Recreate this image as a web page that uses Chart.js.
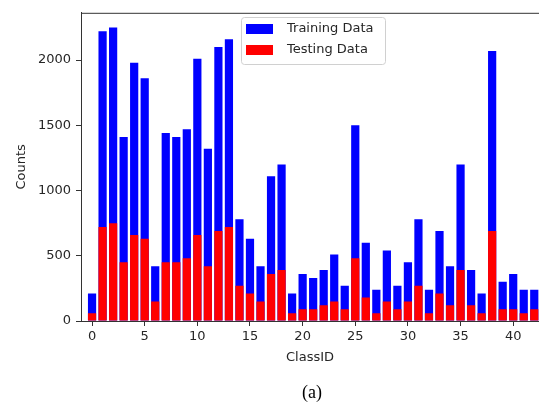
<!DOCTYPE html>
<html lang="en">
<head>
    <meta charset="UTF-8">
    <title>Training / Testing Data per ClassID</title>
    <script src="https://cdn.jsdelivr.net/npm/chart.js"></script>
    <style>
        body { margin: 0; background: #fff; }
        #wrap { width: 539px; height: 406px; }
    </style>
</head>
<body>
<div id="wrap"><canvas id="classChart" width="539" height="406"></canvas></div>

<script>
    // Class ids 0..42 and the counts
    const classIds = [0, 1, 2, 3, 4, 5, 6, 7, 8, 9, 10, 11, 12, 13, 14, 15, 16, 17, 18, 19, 20,
        21, 22, 23, 24, 25, 26, 27, 28, 29, 30, 31, 32, 33, 34, 35, 36, 37, 38, 39, 40, 41, 42];
    const trainCounts = [210, 2220, 2250, 1410, 1980, 1860, 420, 1440, 1410, 1470, 2010, 1320, 2100, 2160,
        780, 630, 420, 1110, 1200, 210, 360, 330, 390, 510, 270, 1500, 600, 240, 540, 270, 450,
        780, 240, 689, 420, 1200, 390, 210, 2070, 300, 360, 240, 240];
    const testCounts = [60, 720, 750, 450, 660, 630, 150, 450, 450, 480, 660, 420, 690, 720,
        270, 210, 150, 360, 390, 60, 90, 90, 120, 150, 90, 480, 180, 60, 150, 90, 150,
        270, 60, 210, 120, 390, 120, 60, 690, 90, 90, 60, 90];
    const seriesNames = ["Training Data", "Testing Data"];
    const yTicks = [0, 500, 1000, 1500, 2000];

    const txt = '#262626';
    const font = { family: 'DejaVu Sans', size: 13 };

    // frame top line, legend box and the "(a)" caption
    const extras = {
        id: 'extras',
        afterDraw(chart) {
            const ctx = chart.ctx;
            const a = chart.chartArea;
            ctx.save();
            ctx.strokeStyle = '#333';
            ctx.lineWidth = 1;
            ctx.beginPath();
            ctx.moveTo(a.left, a.top + 0.5);
            ctx.lineTo(chart.width, a.top + 0.5);
            ctx.stroke();

            // legend
            ctx.fillStyle = 'rgba(255,255,255,0.8)';
            ctx.strokeStyle = '#d0d0d0';
            ctx.beginPath();
            ctx.roundRect(241.5, 17.5, 144, 47, 3);
            ctx.fill();
            ctx.stroke();
            ctx.font = '13px "DejaVu Sans"';
            ctx.textBaseline = 'middle';
            chart.data.datasets.forEach((ds, i) => {
                const y = 29 + i * 21;
                ctx.fillStyle = ds.backgroundColor;
                ctx.fillRect(246, y - 5, 27, 10);
                ctx.fillStyle = txt;
                ctx.fillText(ds.label, 287, y);
            });

            // caption
            ctx.font = '18px "Liberation Serif"';
            ctx.textAlign = 'center';
            ctx.fillStyle = '#000';
            ctx.fillText('(a)', 312, 393);
            ctx.restore();
        }
    };

    new Chart(document.getElementById('classChart'), {
        type: 'bar',
        data: {
            datasets: [
                {
                    label: seriesNames[0],
                    data: classIds.map((c, i) => ({ x: c, y: trainCounts[i] })),
                    backgroundColor: '#0000ff',
                    order: 2
                },
                {
                    label: seriesNames[1],
                    data: classIds.map((c, i) => ({ x: c, y: testCounts[i] })),
                    backgroundColor: '#ff0000',
                    order: 1
                }
            ]
        },
        options: {
            responsive: false,
            animation: false,
            grouped: false,
            categoryPercentage: 1,
            barPercentage: 0.78,
            layout: { padding: { left: 0, right: 0, top: 10, bottom: 41 } },
            plugins: {
                legend: { display: false },
                tooltip: { enabled: false }
            },
            scales: {
                x: {
                    type: 'linear',
                    min: -1.05,
                    max: 42.45,
                    offset: false,
                    grid: { offset: false, drawOnChartArea: false, tickLength: 5, tickColor: '#333' },
                    border: { color: '#333' },
                    ticks: { stepSize: 5, includeBounds: false, padding: 3, color: txt, font: font, maxRotation: 0,
                        callback: v => String(v) },
                    title: { display: true, text: 'ClassID', color: txt, font: font, padding: { top: 0, bottom: 0 } },
                    afterFit(s) { s.height = 44; }
                },
                y: {
                    min: 0,
                    max: 2362,
                    afterBuildTicks(s) { s.ticks = yTicks.map(v => ({ value: v })); },
                    grid: { drawOnChartArea: false, tickLength: 5, tickColor: '#333' },
                    border: { color: '#333' },
                    ticks: { padding: 5, color: txt, font: font, callback: v => String(v) },
                    title: { display: true, text: 'Counts', color: txt, font: font, padding: { top: 14, bottom: 0 } },
                    afterFit(s) { s.width = 81; }
                }
            }
        },
        plugins: [extras]
    });
</script>
</body>
</html>
